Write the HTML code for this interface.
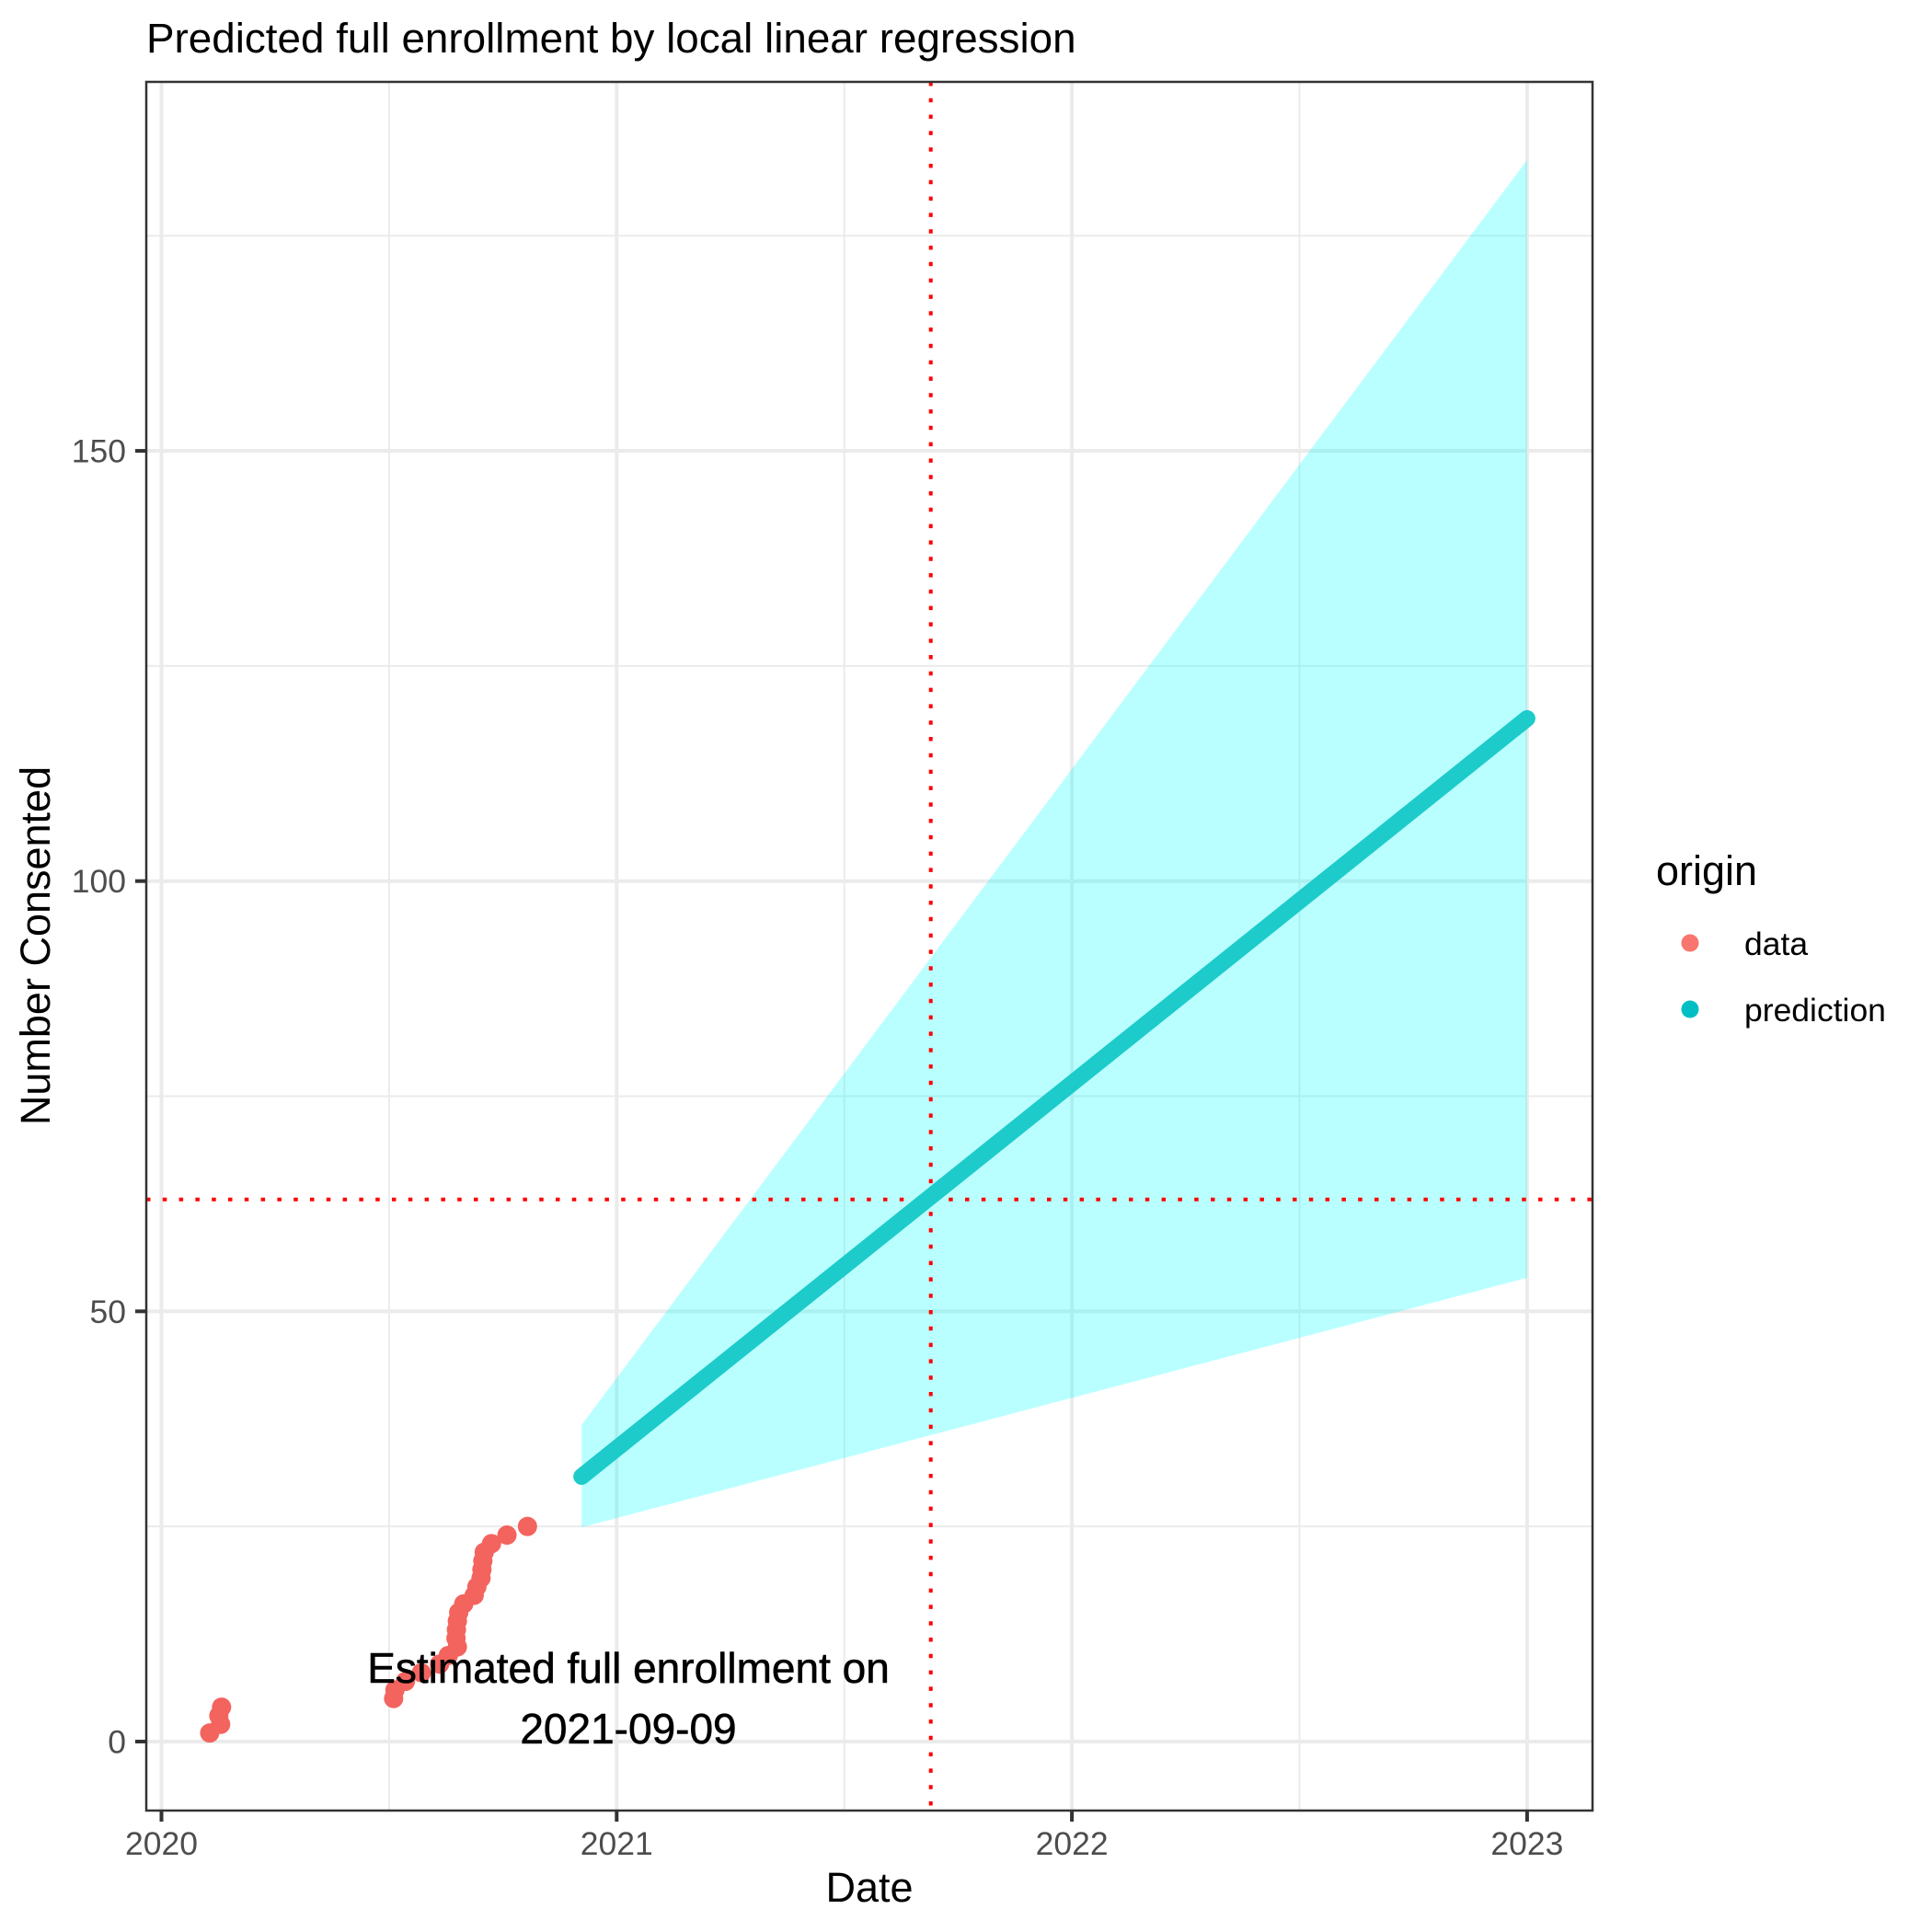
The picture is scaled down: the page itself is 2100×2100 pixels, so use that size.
<!DOCTYPE html>
<html><head><meta charset="utf-8"><style>
html,body{margin:0;padding:0;background:#fff;}
svg{display:block;font-family:"Liberation Sans",Arial,sans-serif;}
</style></head><body>
<svg id="chart" width="2100" height="2100" viewBox="0 0 2100 2100" xmlns="http://www.w3.org/2000/svg">
<rect x="0" y="0" width="2100" height="2100" fill="#fff"/>
<text x="159" y="57" font-size="45.8" fill="#000">Predicted full enrollment by local linear regression</text>
<g id="grid"></g>
<g id="ribbon"></g>
<g id="refs"></g>
<g id="line"></g>
<g id="points"></g>
<g id="annot"></g>
<rect x="159" y="89" width="1572" height="1879" fill="none" stroke="#333" stroke-width="2.5"/>
<g id="axes"></g>
<text x="945" y="2067" font-size="45" text-anchor="middle" fill="#000">Date</text>
<text transform="translate(54,1028) rotate(-90)" font-size="45" text-anchor="middle" fill="#000">Number Consented</text>
<g>
<text x="1800" y="962" font-size="45" fill="#000">origin</text>
<circle cx="1837" cy="1025" r="9.5" fill="#F8766D"/>
<text x="1896" y="1038" font-size="35.5" fill="#000">data</text>
<circle cx="1837" cy="1097" r="9.5" fill="#00BFC4"/>
<text x="1896" y="1110" font-size="35.5" fill="#000">prediction</text>
</g>
</svg>
<script>
const dataYears = [2020.106,2020.130,2020.126,2020.132,2020.510,2020.513,2020.536,2020.571,2020.611,2020.630,2020.650,2020.647,2020.648,2020.650,2020.653,2020.664,2020.687,2020.693,2020.702,2020.704,2020.706,2020.709,2020.725,2020.759,2020.804];
const dataCounts = [1,2,3,4,5,6,7,8,9,10,11,12,13,14,15,16,17,18,19,20,21,22,23,24,25];
const predYears = [2020.923, 2023.0];
const predFit = [30.8, 118.9];
const predLower = [24.9, 53.9];
const predUpper = [36.8, 183.8];
const targetCount = 63;
const targetYear = 2021.69;
const xTicks = [2020, 2021, 2022, 2023];
const xMinor = [2020.5, 2021.5, 2022.5];
const yTicks = [0, 50, 100, 150];
const yMinor = [25, 75, 125, 175];

const NS = "http://www.w3.org/2000/svg";
const X = v => 175.5 + (v - 2020) * 494.8;
const Y = v => 1893 - v * 9.353;
const L = 159, R = 1731, T = 89, B = 1968;
function mk(tag, attrs, parent) {
  const e = document.createElementNS(NS, tag);
  for (const k in attrs) e.setAttribute(k, attrs[k]);
  parent.appendChild(e);
  return e;
}
const grid = document.getElementById('grid');
yMinor.forEach(v => {
  const e = mk('line', {x1: L, x2: R, y1: Y(v), y2: Y(v), stroke: '#EBEBEB', 'stroke-width': 2}, grid);
  
  
});
xMinor.forEach(v => {
  const e = mk('line', {x1: X(v), x2: X(v), y1: T, y2: B, stroke: '#EBEBEB', 'stroke-width': 2}, grid);
  
  
});
yTicks.forEach(v => {
  const e = mk('line', {x1: L, x2: R, y1: Y(v), y2: Y(v), stroke: '#EBEBEB', 'stroke-width': 4}, grid);
  
  
});
xTicks.forEach(v => {
  const e = mk('line', {x1: X(v), x2: X(v), y1: T, y2: B, stroke: '#EBEBEB', 'stroke-width': 4}, grid);
  
  
});

const rib = document.getElementById('ribbon');
let pts = [];
for (let i = 0; i < predYears.length; i++) pts.push(X(predYears[i]) + ',' + Y(predUpper[i]));
for (let i = predYears.length - 1; i >= 0; i--) pts.push(X(predYears[i]) + ',' + Y(predLower[i]));
const poly = mk('polygon', {points: pts.join(' '), fill: '#00FFFF', 'fill-opacity': 0.27}, rib);



const refs = document.getElementById('refs');
const hl = mk('line', {x1: L, x2: R, y1: Y(targetCount), y2: Y(targetCount), stroke: '#FF0000', 'stroke-width': 4, 'stroke-dasharray': '4.5 13.3'}, refs);


const vl = mk('line', {x1: X(targetYear), x2: X(targetYear), y1: T, y2: B, stroke: '#FF0000', 'stroke-width': 4, 'stroke-dasharray': '4.5 13.3'}, refs);



const lg = document.getElementById('line');
const pl = mk('polyline', {points: predYears.map((v, i) => X(v) + ',' + Y(predFit[i])).join(' '), fill: 'none', stroke: '#1DCBCB', 'stroke-width': 18, 'stroke-linecap': 'round'}, lg);



const pg = document.getElementById('points');
dataYears.forEach((v, i) => {
  const c = mk('circle', {cx: X(v), cy: Y(dataCounts[i]), r: 10.5, fill: '#F3645E'}, pg);
  
  
});

const an = document.getElementById('annot');
const t1 = mk('text', {x: 683, y: 1829, 'font-size': 46, 'text-anchor': 'middle', fill: '#000', stroke: '#000', 'stroke-width': 0.6}, an);
t1.textContent = 'Estimated full enrollment on';


const t2 = mk('text', {x: 683, y: 1895, 'font-size': 46, 'text-anchor': 'middle', fill: '#000', stroke: '#000', 'stroke-width': 0.6}, an);
t2.textContent = '2021-09-09';



const ax = document.getElementById('axes');
xTicks.forEach(v => {
  const tk = mk('line', {x1: X(v), x2: X(v), y1: B, y2: B + 12, stroke: '#333', 'stroke-width': 4}, ax);
  
  
  const tx = mk('text', {x: X(v), y: 2016, 'font-size': 35.5, 'text-anchor': 'middle', fill: '#4D4D4D'}, ax);
  tx.textContent = String(v);
  
  
});
yTicks.forEach(v => {
  const tk = mk('line', {x1: L - 12, x2: L, y1: Y(v), y2: Y(v), stroke: '#333', 'stroke-width': 4}, ax);
  
  
  const tx = mk('text', {x: 137, y: Y(v) + 12.5, 'font-size': 35.5, 'text-anchor': 'end', fill: '#4D4D4D'}, ax);
  tx.textContent = String(v);
  
  
});
</script>
</body></html>
